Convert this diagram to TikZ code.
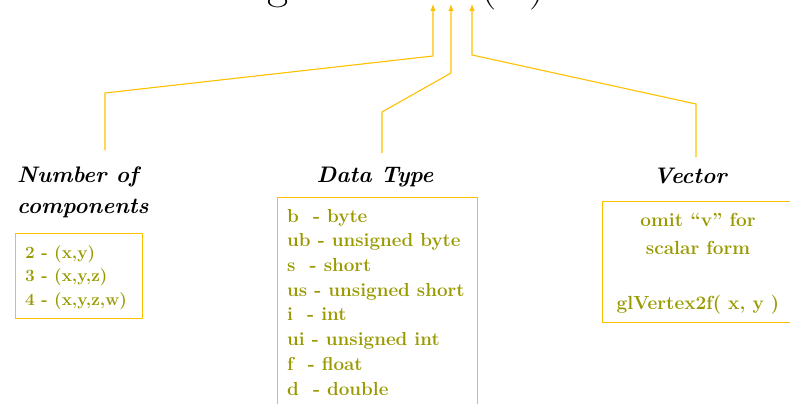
\documentclass[tikz,border=0pt]{standalone}
\usetikzlibrary{arrows.meta}
\definecolor{gold}{HTML}{FFC000}
\definecolor{olive}{HTML}{999900}
\tikzset{
  conn/.style={draw=gold, line width=1.1pt, line join=miter},
  tip/.style={-{Latex[length=7pt,width=5.5pt]}},
  hdr/.style={font=\fontsize{22.5}{31}\selectfont\bfseries\itshape, text=black, inner sep=0pt},
  boxframe/.style={draw=gold, line width=1.1pt, inner sep=0pt},
  boxtext/.style={text=olive, inner sep=0pt},
}
\begin{document}
\begin{tikzpicture}[x=1pt,y=-1pt]
\useasboundingbox (0,0) rectangle (790,404);
\clip (0,0) rectangle (790,404);
% title (mostly above the visible area)
\node[anchor=base west, inner sep=0pt, font=\fontsize{46}{46}\selectfont] (title) at (267,-1.5) {glVertex3fv\hspace{4pt}(\hspace{5pt}v\hspace{5pt})};
% arrow tips
\coordinate (a1) at (433,4);
\coordinate (a2) at (451,4);
\coordinate (a3) at (472,4);
% headers
\node[hdr, anchor=base west, align=left] (h1) at (17,213) {Number of\\components};
\node[hdr, anchor=base] (h2) at (375,182) {Data Type};
\node[hdr, anchor=base] (h3) at (690,183) {Vector};
% connector start points above headers
\coordinate (k1) at (105,150);
\coordinate (k2) at (382,153);
\coordinate (k3) at (696,157);
\coordinate (m1) at (105,93);
\coordinate (m2) at (382,112);
\coordinate (m3) at (696,104);
\coordinate (n1) at (433,56);
\coordinate (n2) at (451,73);
\coordinate (n3) at (472,55);
\draw[conn, tip] (k1) -- (m1) -- (n1) -- (a1);
\draw[conn, tip] (k2) -- (m2) -- (n2) -- (a2);
\draw[conn, tip] (k3) -- (m3) -- (n3) -- (a3);
% box 1
\node[boxframe, anchor=north west, minimum width=127pt, minimum height=85pt] (b1) at (15,233) {};
\node[boxtext, anchor=base west, align=left, font=\fontsize{17.2}{23.5}\selectfont\bfseries] (t1) at (25,305)
  {2 - (x,y)\\3 - (x,y,z)\\4 - (x,y,z,w)};
% box 2
\node[boxframe, anchor=north west, minimum width=200pt, minimum height=240pt] (b2) at (277,197) {};
\node[boxtext, anchor=base west, align=left, font=\fontsize{18.8}{24.7}\selectfont\bfseries] (t2) at (287,395)
  {b\ \ - byte\\ub - unsigned byte\\s\ \ - short\\us - unsigned short\\i\ \ - int\\ui - unsigned int\\f\ \ - float\\d\ \ - double};
% box 3
\node[boxframe, anchor=north west, minimum width=200pt, minimum height=121pt] (b3) at (602,201) {};
\node[boxtext, anchor=base, align=center, font=\fontsize{19}{27.5}\selectfont\bfseries] (t3) at (698,309)
  {omit ``v'' for\\scalar form\\[27.5pt]glVertex2f( x, y )};
\end{tikzpicture}
\end{document}
